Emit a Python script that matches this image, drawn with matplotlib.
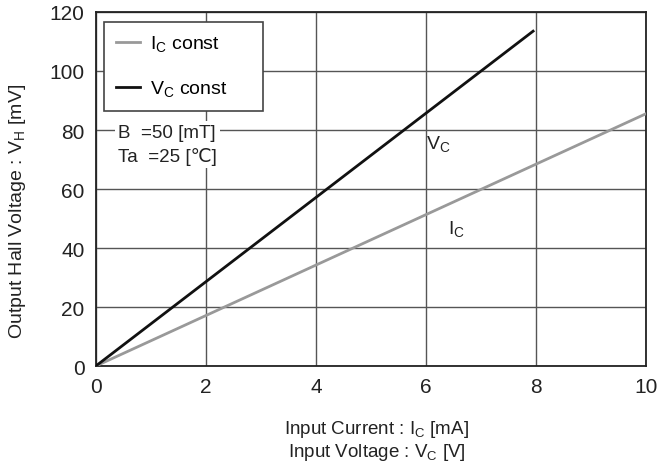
import matplotlib
matplotlib.use("Agg")
import matplotlib.pyplot as plt

plt.rcParams['font.family'] = ['Liberation Sans', 'DejaVu Sans']

# Ic const (gray) and Vc const (black)
ic_x = [0, 10]
ic_y = [0, 85.5]
vc_x = [0, 7.95]
vc_y = [0, 113.5]

xticks = [0, 2, 4, 6, 8, 10]
yticks = [0, 20, 40, 60, 80, 100, 120]

fig = plt.figure(figsize=(6.7, 4.64), dpi=100)
ax = fig.add_axes([0.143, 0.209, 0.821, 0.763])

ax.plot(ic_x, ic_y, color='#999999', lw=2, label=r'I$_\mathregular{C}$ const', zorder=3)
ax.plot(vc_x, vc_y, color='#111111', lw=2, label=r'V$_\mathregular{C}$ const', zorder=3)

ax.set_xlim(0, 10)
ax.set_ylim(0, 120)
ax.set_xticks(xticks)
ax.set_yticks(yticks)
ax.grid(True, color='#555555', lw=1)
ax.tick_params(length=0, labelsize=15, pad=8, colors='#222222')
for s in ax.spines.values():
    s.set_color('#222222')
    s.set_linewidth(1.3)

leg = ax.legend(loc='upper left', bbox_to_anchor=(0.0145, 0.672, 0.289, 0.3),
                mode='expand', fontsize=14,
                fancybox=False, framealpha=1, edgecolor='#444444',
                handlelength=1.25, labelspacing=1.25, borderpad=0.62, handletextpad=0.5,
                borderaxespad=0)
leg.get_frame().set_linewidth(1.2)

ax.text(0.4, 75.2, 'B  =50 [mT]\nTa  =25 [\u2103]', fontsize=13.5, va='center', ha='left',
        linespacing=1.45, color='#222222',
        bbox=dict(facecolor='white', edgecolor='none', pad=2), zorder=4)
ax.text(6.0, 73.5, r'V$_\mathregular{C}$', fontsize=14, color='#222222')
ax.text(6.4, 45, r'I$_\mathregular{C}$', fontsize=14, color='#222222')

ax.set_xlabel('Input Current : I$_\\mathregular{C}$ [mA]\nInput Voltage : V$_\\mathregular{C}$ [V]',
              fontsize=13.5, color='#222222', linespacing=1.1)
ax.xaxis.set_label_coords(0.51, -0.148)
ax.set_ylabel('Output Hall Voltage : V$_\\mathregular{H}$ [mV]', fontsize=14,
              color='#222222')
ax.yaxis.set_label_coords(-0.124, 0.44)

fig.savefig('out.png', dpi=100)
